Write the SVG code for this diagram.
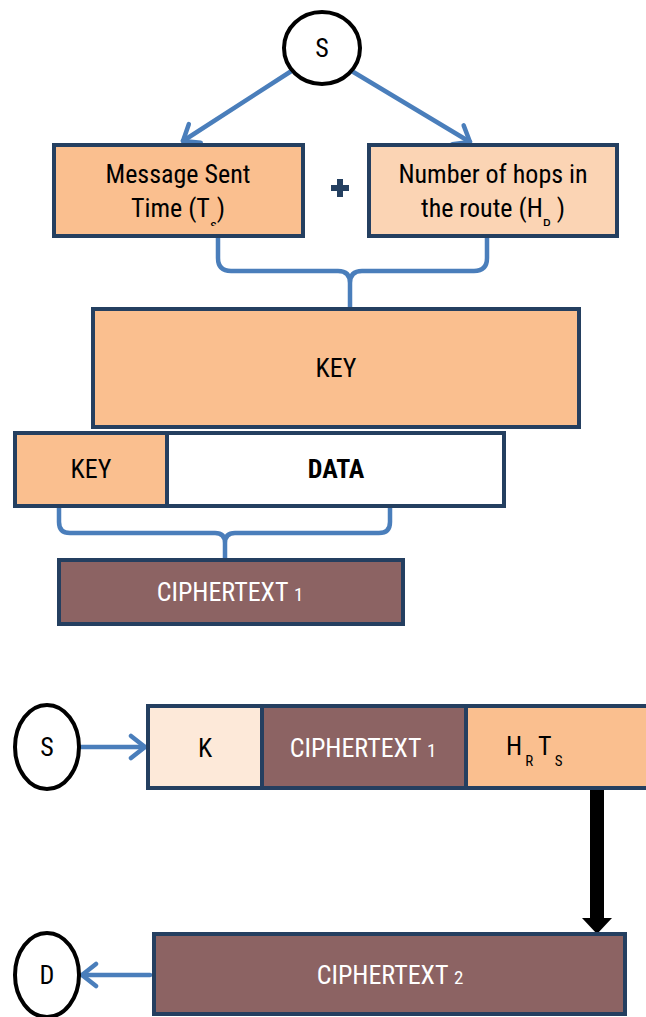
<svg xmlns="http://www.w3.org/2000/svg" width="646" height="1017" viewBox="0 0 646 1017">
<style>
  .box { stroke: #243F60; stroke-width: 4; }
  .org { fill: #FABF8F; }
  .lt { fill: #FBD4B4; }
  .pale { fill: #FDE9D9; }
  .brn { fill: #8C6363; }
  .wht { fill: #FFFFFF; }
  .ell { fill: #FFFFFF; stroke: #000000; stroke-width: 4; }
  .t { font-family: "Liberation Sans Narrow", "Roboto Condensed", "Liberation Sans", sans-serif; font-size: 26px; fill: #000000; text-anchor: middle; }
  .w { fill: #FFFFFF; }
  .b { font-weight: bold; }
  .blue { fill: none; stroke: #4A7EBB; stroke-width: 4.5; stroke-linecap: round; stroke-linejoin: round; }
</style>
<defs>
  <marker id="open" markerUnits="userSpaceOnUse" markerWidth="28" markerHeight="28" viewBox="0 0 28 28" refX="24" refY="14" orient="auto">
    <path d="M10,3 L24,14 L10,25" fill="none" stroke="#4A7EBB" stroke-width="4.5" stroke-linecap="round" stroke-linejoin="round"/>
  </marker>
  <clipPath id="clip1"><rect x="54" y="145" width="249" height="81"/></clipPath>
  <clipPath id="clip2"><rect x="369" y="145" width="248" height="81"/></clipPath>
</defs>

<g id="connectors">
  <line class="blue" x1="293" y1="70" x2="183" y2="141" marker-end="url(#open)"/>
  <line class="blue" x1="350" y1="70" x2="470" y2="142" marker-end="url(#open)"/>
  <path class="blue" d="M218,238 L218,258 Q218,271 231,271 L338,271 Q350,271 350,283 L350,307 M487,238 L487,258 Q487,271 474,271 L362,271 Q350,271 350,283"/>
  <path class="blue" d="M59,507 L59,522 Q59,533 70,533 L215,533 Q225,533 225,543 L225,558 M390,507 L390,522 Q390,533 379,533 L235,533 Q225,533 225,543"/>
  <line class="blue" x1="80" y1="747" x2="145" y2="747" marker-end="url(#open)"/>
  <line class="blue" x1="150" y1="975" x2="82" y2="975" marker-end="url(#open)"/>
  <rect x="590" y="790" width="14" height="129" fill="#000000"/>
  <polygon points="582,918 612,918 597,934" fill="#000000"/>
</g>

<g id="node-s-top">
  <ellipse class="ell" cx="322" cy="48" rx="38" ry="36"/>
  <text class="t" x="322" y="57">S</text>
</g>

<g id="node-ts">
  <rect class="box org" x="54" y="145" width="249" height="91"/>
  <g clip-path="url(#clip1)">
    <text class="t" x="178" y="183">Message Sent</text>
    <text class="t" x="178" y="217">Time (T<tspan dy="13" font-size="15">s</tspan><tspan dy="-13">)</tspan></text>
  </g>
</g>

<g id="plus">
  <path d="M337,179 L343,179 L343,185 L349,185 L349,191 L343,191 L343,197 L337,197 L337,191 L331,191 L331,185 L337,185 Z" fill="#243F60"/>
</g>

<g id="node-hr">
  <rect class="box lt" x="369" y="145" width="248" height="91"/>
  <g clip-path="url(#clip2)">
    <text class="t" x="493" y="183">Number of hops in</text>
    <text class="t" x="493" y="217">the route (H<tspan dy="13" font-size="15">R</tspan><tspan dy="-13"> )</tspan></text>
  </g>
</g>

<g id="node-key">
  <rect class="box org" x="93" y="309" width="486" height="118"/>
  <text class="t" x="336" y="377">KEY</text>
</g>

<g id="node-key-small">
  <rect class="box org" x="15" y="433" width="152" height="73"/>
  <text class="t" x="91" y="478">KEY</text>
</g>

<g id="node-data">
  <rect class="box wht" x="167" y="433" width="337" height="73"/>
  <text class="t b" x="336" y="478">DATA</text>
</g>

<g id="node-cipher1">
  <rect class="box brn" x="59" y="560" width="344" height="64"/>
  <text class="t w" x="230" y="601">CIPHERTEXT <tspan font-size="19">1</tspan></text>
</g>

<g id="node-s-bottom">
  <ellipse class="ell" cx="47" cy="747" rx="32" ry="42"/>
  <text class="t" x="47" y="756">S</text>
</g>

<g id="node-packet">
  <rect class="box pale" x="148" y="706" width="114" height="82"/>
  <rect class="box brn" x="262" y="706" width="204" height="82"/>
  <rect class="box org" x="466" y="706" width="184" height="82"/>
  <text class="t" x="205" y="757">K</text>
  <text class="t w" x="363" y="757">CIPHERTEXT <tspan font-size="19">1</tspan></text>
  <text class="t" x="506" y="755" style="text-anchor:start">H<tspan dx="3" dy="11" font-size="15">R</tspan><tspan dx="5" dy="-11">T</tspan><tspan dx="3" dy="11" font-size="15">S</tspan></text>
</g>

<g id="node-cipher2">
  <rect class="box brn" x="154" y="934" width="471" height="80"/>
  <text class="t w" x="390" y="984">CIPHERTEXT <tspan font-size="19">2</tspan></text>
</g>

<g id="node-d">
  <ellipse class="ell" cx="47" cy="975" rx="32" ry="42"/>
  <text class="t" x="47" y="984">D</text>
</g>
</svg>
